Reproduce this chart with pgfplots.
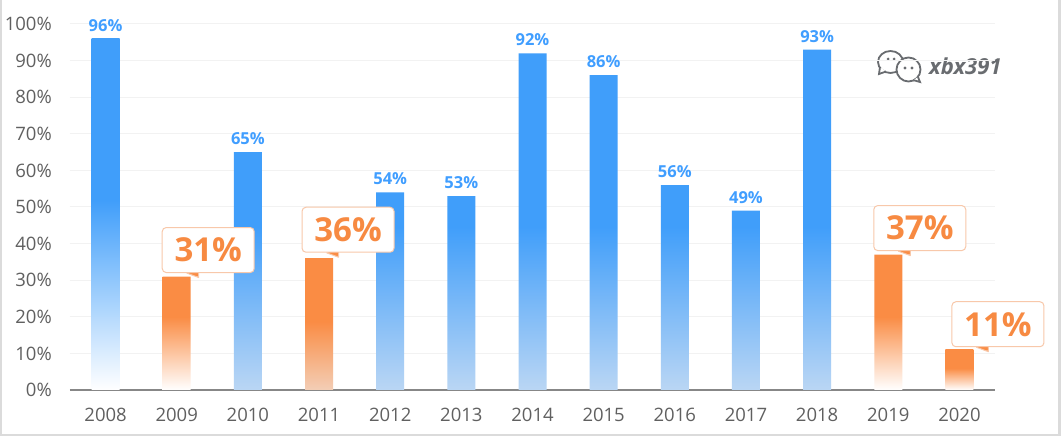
\documentclass[border=0pt]{standalone}
\usepackage{pgfplots}
\pgfplotsset{compat=1.18}
\usepackage{fontspec}
\setmainfont{Open Sans}
\definecolor{btop}{RGB}{64,158,250}
\definecolor{bbot}{RGB}{186,214,244}
\definecolor{otop}{RGB}{250,140,68}
\definecolor{obot}{RGB}{243,206,182}
\definecolor{labblue}{RGB}{64,158,255}
\definecolor{laborange}{RGB}{247,138,66}
\definecolor{cborder}{RGB}{248,200,170}
\definecolor{ticktext}{RGB}{96,96,96}
\definecolor{axisgray}{RGB}{135,135,135}
\definecolor{gridgray}{RGB}{242,242,242}
\definecolor{wmgray}{RGB}{105,108,112}
\pgfdeclareverticalshading{bluebar}{100bp}{color(0bp)=(bbot); color(25bp)=(bbot); color(49bp)=(btop); color(100bp)=(btop)}
\pgfdeclareverticalshading{bluewhite}{100bp}{color(0bp)=(white); color(25bp)=(white); color(52bp)=(btop); color(100bp)=(btop)}
\pgfdeclareverticalshading{orangebar}{100bp}{color(0bp)=(obot); color(25bp)=(obot); color(51bp)=(otop); color(100bp)=(otop)}
\pgfdeclareverticalshading{orangewhite}{100bp}{color(0bp)=(white); color(25bp)=(white); color(52bp)=(otop); color(100bp)=(otop)}
\begin{document}
\begin{tikzpicture}[x=1pt,y=1pt]
\useasboundingbox (0,0) rectangle (1061,436);
\fill[black!14] (0,0) rectangle (1061,436);
\fill[white] (1.5,2) rectangle (1058,436);
% watermark icon
\begin{scope}[draw=wmgray, line width=1.8pt]
  \draw[fill=white] (890.5,374) ellipse [x radius=12.5, y radius=11];
  \draw[fill=white] (880,369) -- (879,362) -- (886,364.5);
  \draw[fill=white] (908.5,366.5) ellipse [x radius=12, y radius=12];
  \draw[fill=white] (918,359) -- (920,354) -- (913.5,355.8);
  \fill[wmgray] (888,377) circle (1.5) (894,377) circle (1.5) (905,368) circle (1.6) (912,368) circle (1.6);
\end{scope}
\node[anchor=base west, inner sep=0pt, text=wmgray, font=\bfseries\itshape\fontsize{22}{24}\selectfont] at (929,361) {xbx391};
\begin{axis}[
  at={(70pt,46pt)}, anchor=south west,
  scale only axis, width=925pt, height=366pt,
  xmin=-0.5, xmax=12.5, ymin=0, ymax=100,
  axis x line*=bottom, axis y line*=left,
  y axis line style={draw=none},
  x axis line style={draw=axisgray, line width=1.5pt, -},
  major tick length=0pt,
  xtick={0,...,12},
  xticklabels={2008,2009,2010,2011,2012,2013,2014,2015,2016,2017,2018,2019,2020},
  ytick={0,10,...,100},
  yticklabels={0\%,10\%,20\%,30\%,40\%,50\%,60\%,70\%,80\%,90\%,100\%},
  ymajorgrids, grid style={draw=gridgray, line width=1pt},
  tick label style={font=\fontsize{18.5}{20}\selectfont, text=ticktext, inner sep=0pt},
  yticklabel style={anchor=east, xshift=-18pt},
  xticklabel style={anchor=north, yshift=-18pt},
  clip=false,
  /pgf/number format/assume math mode=true,
  bluelab/.style={nodes near coords={\pgfmathprintnumber{\pgfplotspointmeta}\%},
    nodes near coords style={font=\bfseries\fontsize{16.5}{18}\selectfont, text=labblue, anchor=south, inner sep=0pt, yshift=7pt}},
  callout/.style={nodes near coords={\pgfmathprintnumber{\pgfplotspointmeta}\%},
    nodes near coords style={font=\bfseries\fontsize{33}{36}\selectfont, text=laborange,
      shape=rectangle, draw=cborder, line width=1pt, fill=white, rounded corners=4pt,
      minimum width=92pt, minimum height=45pt, inner sep=0pt, anchor=south west, #1,
      append after command={\pgfextra{
        \fill[white] ([xshift=25pt,yshift=1pt]\tikzlastnode.south west) -- ++(12pt,-5pt) -- ++(0pt,5pt) -- cycle;
        \draw[cborder, line width=1pt, line join=round] ([xshift=25pt]\tikzlastnode.south west) -- ++(12pt,-4.5pt) -- ++(0pt,4.5pt);
      }}}},
]
\addplot[ybar, bar width=28pt, draw=none, shade, shading=bluewhite, bluelab] coordinates {(0,96)};
\addplot[ybar, bar width=28pt, draw=none, shade, shading=bluebar, bluelab] coordinates {
(2,65) (4,54) (5,53) (6,92) (7,86) (8,56) (9,49) (10,93)};
\addplot[ybar, bar width=28pt, draw=none, shade, shading=orangewhite, callout={xshift=-8pt, yshift=2.5pt}] coordinates {(12,11)};
\addplot[ybar, bar width=28pt, draw=none, shade, shading=orangewhite, callout={xshift=-15pt, yshift=3.5pt}] coordinates {(1,31) (11,37)};
\addplot[ybar, bar width=28pt, draw=none, shade, shading=orangebar, callout={xshift=-17.5pt, yshift=5.5pt}] coordinates {(3,36)};
\end{axis}
\end{tikzpicture}
\end{document}
